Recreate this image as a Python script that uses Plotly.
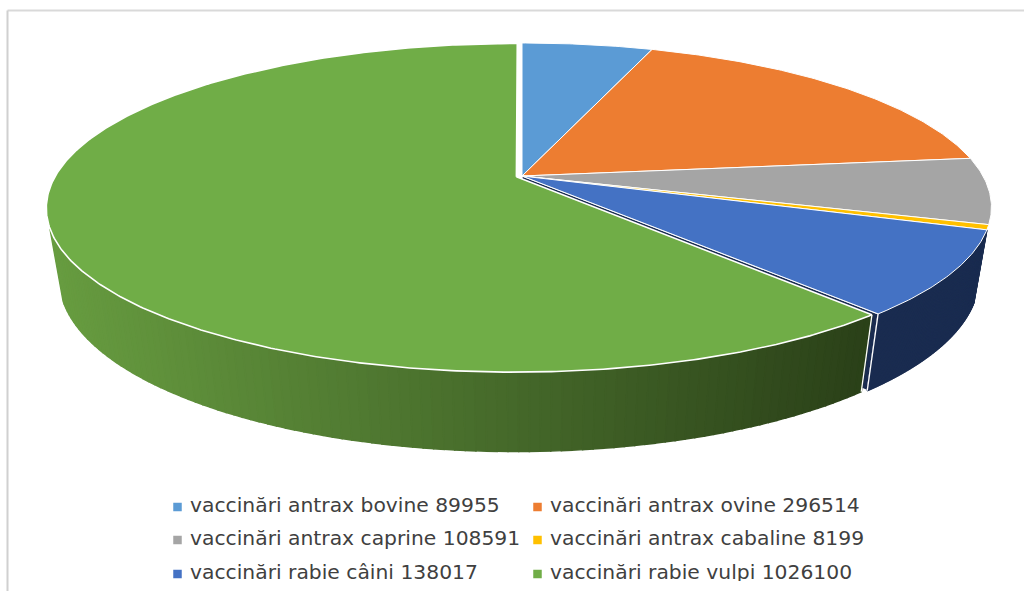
import numpy as np
import plotly.graph_objects as go

# ---- data ----
categories = ["vaccinări antrax bovine", "vaccinări antrax ovine", "vaccinări antrax caprine",
              "vaccinări antrax cabaline", "vaccinări rabie câini", "vaccinări rabie vulpi"]
values = [89955, 296514, 108591, 8199, 138017, 1026100]
top_colors = ["#5B9BD5", "#ED7D31", "#A5A5A5", "#FFC000", "#4472C4", "#70AD47"]
exploded = [0, 0, 0, 0, 0, 0.013]

# ---- projection of the tilted disc into the 1024x591 canvas ----
CX, CY = 522.0, 176.0
A, B, C = 461.0, -124.9, 0.189   # disc scale and perspective
DW, DY = 0.027, 76.5             # what the disc thickness adds
VIS = -0.31                      # rim is drawn only in front of this


def project(u, v, z=0):
    w = 1 + C * v + DW * z
    return CX + A * u / w, (CY + B * v + DY * z) / w


def disc(theta, off=0.0, mid=0.0):
    return np.sin(theta) + off * np.sin(mid), np.cos(theta) + off * np.cos(mid)


def mix(c1, c2, t):
    return "rgb(%d,%d,%d)" % tuple(round(a + (b - a) * t) for a, b in zip(c1, c2))


fig = go.Figure()


def poly(x, y, fill, line="rgba(0,0,0,0)", width=0, name=None):
    fig.add_trace(go.Scatter(x=list(x), y=list(y), mode="lines", fill="toself", fillcolor=fill,
                             line=dict(color=line, width=width), hoverinfo="skip" if name is None else "text",
                             text=name, showlegend=False))


def seam(x0, y0, x1, y1):
    fig.add_trace(go.Scatter(x=[x0, x1], y=[y0, y1], mode="lines",
                             line=dict(color="#FFFFFF", width=1.3), hoverinfo="skip", showlegend=False))


total = sum(values)
edges = np.concatenate([[0], np.cumsum(values)]) / total * 2 * np.pi

# rim of the dark blue slice + its cut face, then the green rim
blue = 4
t0, t1 = edges[blue], edges[blue + 1]
face_u, face_v = disc(t1)
xa, ya = project(0, 0, 0); xb, yb = project(face_u, face_v, 0)
xc, yc = project(face_u, face_v, 1); xd, yd = project(0, 0, 1)
poly([xa, xb, xc, xd, xa], [ya, yb, yc, yd, ya], "#1A2C50", "#FFFFFF", 1.3)


def rim(i, col_left, col_right):
    a0, a1 = edges[i], edges[i + 1]
    mid = (a0 + a1) / 2
    th = np.linspace(a0, a1, 200)
    u, v = disc(th, exploded[i], mid)
    keep = v <= VIS
    u, v = u[keep], v[keep]
    xt, yt = project(u, v, 0)
    xb_, yb_ = project(u, v, 1)
    order = np.argsort(xt)
    xt, yt, xb_, yb_ = xt[order], yt[order], xb_[order], yb_[order]
    for k in range(len(xt) - 1):
        t = float(np.clip((xt[k] - 50) / 820, 0, 1))
        col = mix(col_left, col_right, t)
        poly([xt[k], xt[k + 1], xb_[k + 1], xb_[k], xt[k]],
             [yt[k], yt[k + 1], yb_[k + 1], yb_[k], yt[k]], col, col, 1.5)
    return xt, yt, xb_, yb_


b = rim(blue, (26, 44, 80), (26, 44, 80))
seam(b[0][0], b[1][0], b[2][0], b[3][0])
g = rim(5, (103, 156, 64), (42, 64, 24))
seam(g[0][-1], g[1][-1], g[2][-1], g[3][-1])

# top faces
for i, (name, val) in enumerate(zip(categories, values)):
    a0, a1 = edges[i], edges[i + 1]
    mid = (a0 + a1) / 2
    th = np.linspace(a0, a1, max(6, int((a1 - a0) * 120)))
    u, v = disc(th, exploded[i], mid)
    cu, cv = exploded[i] * np.sin(mid), exploded[i] * np.cos(mid)
    uu = np.concatenate([[cu], u, [cu]])
    vv = np.concatenate([[cv], v, [cv]])
    x, y = project(uu, vv, 0)
    poly(x, y, top_colors[i], "#FFFFFF", 1.6 if i == 5 else 1.0, f"{name} {val}")

# legend
leg_rows = [507, 540, 574]
leg_cols = [(177.5, 190), (537.5, 550)]
for i, (name, val) in enumerate(zip(categories, values)):
    mx, tx = leg_cols[i % 2]
    ry = leg_rows[i // 2]
    fig.add_trace(go.Scatter(x=[mx], y=[ry], mode="markers",
                             marker=dict(symbol="square", size=8.5, color=top_colors[i], line=dict(width=0)),
                             hoverinfo="skip", showlegend=False))
    fig.add_trace(go.Scatter(x=[tx], y=[ry], mode="text", text=[f"{name} {val}"], textposition="middle right",
                             textfont=dict(family="DejaVu Sans", size=20.3, color="#404040"),
                             hoverinfo="skip", showlegend=False))

fig.update_layout(
    width=1024, height=591, margin=dict(l=0, r=0, t=0, b=0), paper_bgcolor="#FFFFFF", plot_bgcolor="#FFFFFF",
    xaxis=dict(range=[0, 1024], visible=False, fixedrange=True),
    yaxis=dict(range=[591, 0], visible=False, fixedrange=True),
    shapes=[
        dict(type="line", x0=7.5, y0=10.5, x1=1024, y1=10.5, line=dict(color="#D9D9D9", width=2), layer="below"),
        dict(type="line", x0=7.5, y0=10.5, x1=7.5, y1=591, line=dict(color="#D0D0D0", width=2), layer="below"),
        dict(type="rect", x0=9, y0=581, x1=1024, y1=591, fillcolor="#FFFFFF", line=dict(width=0), layer="above"),
    ],
)
fig.write_html("out.html", config=dict(displayModeBar=False),
               post_script="document.body.style.margin='0';document.documentElement.style.overflow='hidden';")
